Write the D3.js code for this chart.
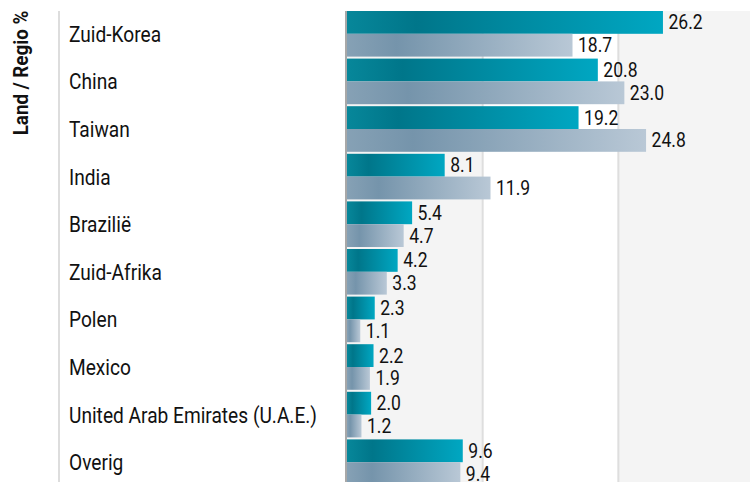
<!DOCTYPE html>
<html>
<head>
<meta charset="utf-8">
<script src="https://cdn.jsdelivr.net/npm/d3@7"></script>
<style>
  body { margin: 0; background: #fff; }
  text { font-family: Roboto, "Noto Sans", sans-serif; fill: #111; }
</style>
</head>
<body>
<div id="chart"></div>
<script>
//Data
const categories = ["Zuid-Korea", "China", "Taiwan", "India", "Brazilië", "Zuid-Afrika",
                    "Polen", "Mexico", "United Arab Emirates (U.A.E.)", "Overig"];
const seriesNames = ["fonds", "index"];
const fondsValues = [26.2, 20.8, 19.2, 8.1, 5.4, 4.2, 2.3, 2.2, 2.0, 9.6];
const indexValues = [18.7, 23.0, 24.8, 11.9, 4.7, 3.3, 1.1, 1.9, 1.2, 9.4];
const gridValues = [0, 11.25, 22.5, 33.75];
const axisTitle = "Land / Regio %";

//Width and Height
const width = 750, height = 482;
const plotTop = 11, plotLeft = 347, plotRight = 754;

const rows = categories.map(function(c, i) {
  return { name: c, values: [
    { key: seriesNames[0], value: fondsValues[i] },
    { key: seriesNames[1], value: indexValues[i] }
  ]};
});

//Scales
const xScale = d3.scaleLinear().domain([0, 33.75]).range([plotLeft, plotRight]);
const yScale = d3.scaleBand().domain(categories).range([plotTop, 485]).paddingInner(0.042);
const ySub = d3.scaleBand().domain(seriesNames).range([0, yScale.bandwidth()]);

const svg = d3.select("#chart").append("svg")
  .attr("width", width).attr("height", height);

//Gradients
const defs = svg.append("defs");
const gradStops = {
  fonds: [["0%", "#07879a"], ["22%", "#00768a"], ["100%", "#00a7c2"]],
  index: [["0%", "#86a1b5"], ["22%", "#7594ab"], ["100%", "#b9c8d6"]]
};
seriesNames.forEach(function(k) {
  const g = defs.append("linearGradient").attr("id", "grad-" + k)
    .attr("x1", "0%").attr("x2", "100%").attr("y1", "0%").attr("y2", "0%");
  gradStops[k].forEach(function(s) {
    g.append("stop").attr("offset", s[0]).attr("stop-color", s[1]);
  });
});

//Background bands
const bands = d3.pairs(gridValues);
svg.append("g").selectAll("rect")
  .data(bands.filter(function(d, i) { return i % 2 === 0; }))
  .enter().append("rect")
  .attr("x", function(d) { return xScale(d[0]); })
  .attr("width", function(d) { return xScale(d[1]) - xScale(d[0]); })
  .attr("y", plotTop)
  .attr("height", height - plotTop)
  .attr("fill", "#f4f4f4");

//Grid lines
svg.append("g").selectAll("line")
  .data(gridValues.slice(1, -1))
  .enter().append("line")
  .attr("x1", function(d) { return xScale(d); })
  .attr("x2", function(d) { return xScale(d); })
  .attr("y1", plotTop).attr("y2", height)
  .attr("stroke", "#dedede").attr("stroke-width", 2);

//Left divider
svg.append("line")
  .attr("x1", 59).attr("x2", 59)
  .attr("y1", plotTop).attr("y2", height)
  .attr("stroke", "#dddddd").attr("stroke-width", 2);

//Bars
const rowG = svg.append("g").selectAll(".row")
  .data(rows)
  .enter().append("g")
  .attr("class", "row")
  .attr("transform", function(d) { return "translate(0," + yScale(d.name) + ")"; });

rowG.selectAll("rect")
  .data(function(d) { return d.values; })
  .enter().append("rect")
  .attr("x", xScale(0))
  .attr("y", function(d) { return ySub(d.key); })
  .attr("width", function(d) { return xScale(d.value) - xScale(0); })
  .attr("height", ySub.bandwidth())
  .attr("fill", function(d) { return "url(#grad-" + d.key + ")"; });

//Value labels
rowG.selectAll(".val")
  .data(function(d) { return d.values; })
  .enter().append("text")
  .attr("class", "val")
  .attr("transform", function(d) {
    return "translate(" + (xScale(d.value) + 5.5) + "," + (ySub(d.key) + ySub.bandwidth() / 2) + ") scale(0.9,1)";
  })
  .attr("dy", "0.36em")
  .style("font-size", "19.5px")
  .text(function(d) { return d3.format(".1f")(d.value); });

//Category labels
rowG.append("text")
  .attr("transform", function() {
    return "translate(69," + (yScale.bandwidth() / 2) + ") scale(0.87,1)";
  })
  .attr("dy", "0.36em")
  .style("font-size", "22px")
  .text(function(d) { return d.name; });

//Axis line
svg.append("line")
  .attr("x1", xScale(0) - 1).attr("x2", xScale(0) - 1)
  .attr("y1", plotTop).attr("y2", height)
  .attr("stroke", "#a8a8a8").attr("stroke-width", 2);

//Axis title
svg.append("text")
  .attr("transform", "translate(28,73) rotate(-90) scale(0.94,1)")
  .style("text-anchor", "middle")
  .style("font-size", "20px")
  .style("font-weight", "bold")
  .text(axisTitle);
</script>
</body>
</html>
